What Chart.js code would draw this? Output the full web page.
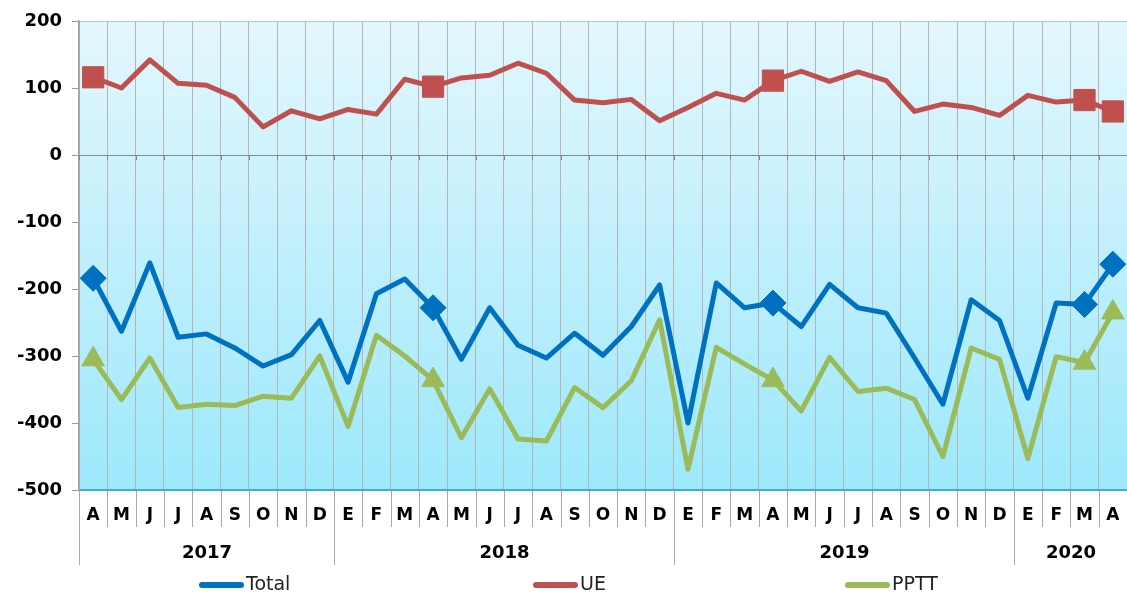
<!DOCTYPE html>
<html>
<head>
<meta charset="utf-8">
<script src="https://cdn.jsdelivr.net/npm/chart.js@4.4.1/dist/chart.umd.min.js"></script>
<style>
  html, body { margin: 0; padding: 0; background: #fff; }
</style>
</head>
<body>
<canvas id="chart" width="1127" height="594"></canvas>
<script>
// months Apr 2017 .. Apr 2020 (Spanish initials)
const months = ['A','M','J','J','A','S','O','N','D',
  'E','F','M','A','M','J','J','A','S','O','N','D',
  'E','F','M','A','M','J','J','A','S','O','N','D',
  'E','F','M','A'];
const yearLabels = ['2017', '2018', '2019', '2020'];
const yearSpans = [9, 12, 12, 4];

const total = [-184, -263, -161, -272, -267, -288, -315, -298, -247,
  -339, -207, -185, -228, -305, -228, -284, -303, -266, -299, -256, -194,
  -400, -191, -228, -221, -256, -193, -228, -236, -303, -372, -216, -247,
  -363, -221, -223, -163];
const ue = [116, 100, 142, 107, 104, 86, 42, 66, 54,
  68, 61, 113, 102, 115, 119, 137, 122, 82, 78, 83, 51,
  71, 92, 82, 111, 125, 110, 124, 111, 65, 76, 71, 59,
  89, 79, 82, 65];
const pptt = [-305, -365, -303, -377, -372, -374, -360, -363, -300,
  -405, -269, -300, -336, -422, -349, -424, -427, -347, -377, -337, -246,
  -469, -287, -312, -336, -382, -302, -353, -348, -365, -450, -288, -305,
  -453, -301, -310, -235];

const yMin = -500, yMax = 200, yStep = 100;
const markerIdx = [0, 12, 24, 35, 36];

const FONT = "'DejaVu Sans', Verdana, sans-serif";
const legendX = [199, 533, 845];

function markerSizes(r) {
  return months.map((m, i) => markerIdx.includes(i) ? r : 0);
}

// gradient behind plot area
const plotBg = {
  id: 'plotBg',
  beforeDraw(chart) {
    const { ctx, chartArea: a } = chart;
    const g = ctx.createLinearGradient(0, a.top, 0, a.bottom);
    g.addColorStop(0, '#e3f7fd');
    g.addColorStop(1, '#9de8fc');
    ctx.save();
    ctx.fillStyle = g;
    ctx.fillRect(a.left, a.top, a.right - a.left, a.bottom - a.top);
    ctx.restore();
  }
};

// separators, year row, small ticks on the 0 line, legend
const axisExtras = {
  id: 'axisExtras',
  afterDraw(chart) {
    const { ctx, chartArea: a, scales: { x, y } } = chart;
    const half = (x.getPixelForValue(1) - x.getPixelForValue(0)) / 2;
    const edge = i => Math.round(x.getPixelForValue(i) - half) + 0.5;
    const y0 = Math.round(y.getPixelForValue(0));

    ctx.save();
    ctx.lineWidth = 1;
    ctx.strokeStyle = '#a8a8a8';
    for (let i = 0; i <= months.length; i++) {
      ctx.beginPath();
      ctx.moveTo(edge(i), a.bottom + 1);
      ctx.lineTo(edge(i), a.bottom + 37);
      ctx.stroke();
    }
    ctx.strokeStyle = '#888';
    for (let i = 0; i <= months.length; i++) {
      ctx.beginPath();
      ctx.moveTo(edge(i), y0);
      ctx.lineTo(edge(i), y0 + 5);
      ctx.stroke();
    }

    let start = 0;
    ctx.font = 'bold 18px ' + FONT;
    ctx.fillStyle = '#000';
    ctx.textAlign = 'center';
    ctx.textBaseline = 'middle';
    yearLabels.forEach((lab, k) => {
      const end = start + yearSpans[k];
      ctx.strokeStyle = '#a8a8a8';
      ctx.beginPath();
      ctx.moveTo(edge(start), a.bottom + 1);
      ctx.lineTo(edge(start), a.bottom + 75);
      ctx.stroke();
      ctx.fillText(lab, (edge(start) + edge(end)) / 2, a.bottom + 63);
      start = end;
    });

    // legend
    ctx.font = '19px ' + FONT;
    ctx.textAlign = 'left';
    ctx.lineCap = 'round';
    ctx.lineWidth = 6;
    chart.data.datasets.forEach((ds, i) => {
      const lx = legendX[i], ly = 585;
      ctx.strokeStyle = ds.borderColor;
      ctx.beginPath();
      ctx.moveTo(lx + 3, ly);
      ctx.lineTo(lx + 42, ly);
      ctx.stroke();
      ctx.fillStyle = '#222';
      ctx.fillText(ds.label, lx + 47, ly);
    });
    ctx.restore();
  }
};

new Chart(document.getElementById('chart'), {
  type: 'line',
  data: {
    labels: months,
    datasets: [
      {
        label: 'Total', data: total, order: 2,
        borderColor: '#0070c0', backgroundColor: '#0070c0',
        borderWidth: 5, tension: 0, borderJoinStyle: 'round',
        pointStyle: 'rectRot', pointRadius: markerSizes(13), pointHoverRadius: 0,
        pointBorderWidth: 1
      },
      {
        label: 'UE', data: ue, order: 1,
        borderColor: '#c0504d', backgroundColor: '#c0504d',
        borderWidth: 5, tension: 0, borderJoinStyle: 'round',
        pointStyle: 'rect', pointRadius: markerSizes(15), pointHoverRadius: 0,
        pointBorderWidth: 1
      },
      {
        label: 'PPTT', data: pptt, order: 0,
        borderColor: '#9bbb59', backgroundColor: '#9bbb59',
        borderWidth: 5, tension: 0, borderJoinStyle: 'round',
        pointStyle: 'triangle', pointRadius: markerSizes(13), pointHoverRadius: 0,
        pointBorderWidth: 1
      }
    ]
  },
  options: {
    responsive: false,
    animation: false,
    layout: { autoPadding: false, padding: { top: 21, left: 0, right: 0, bottom: 0 } },
    plugins: { legend: { display: false }, tooltip: { enabled: false } },
    scales: {
      x: {
        offset: true,
        grid: { display: true, offset: true, color: '#b5b5b5', drawTicks: false, lineWidth: 1 },
        border: { display: true, color: '#3fb2c9', width: 2 },
        ticks: { color: '#000', font: { family: FONT, size: 17, weight: 'bold' }, padding: 15, maxRotation: 0, autoSkip: false },
        afterFit: s => { s.height = 104; s.paddingLeft = 0; s.paddingRight = 0; }
      },
      y: {
        min: yMin, max: yMax,
        grid: {
          color: c => c.tick.value === 0 ? '#8a8a8a' : (c.tick.value === yMax ? '#9bd3e1' : 'rgba(0,0,0,0)'),
          tickColor: '#999', tickLength: 7, drawTicks: true
        },
        border: { display: true, color: '#a0a0a0', width: 1.5 },
        ticks: { stepSize: yStep, color: '#000', font: { family: FONT, size: 18, weight: 'bold' }, padding: 10 },
        afterFit: s => { s.width = 79; }
      }
    }
  },
  plugins: [plotBg, axisExtras]
});
</script>
</body>
</html>
